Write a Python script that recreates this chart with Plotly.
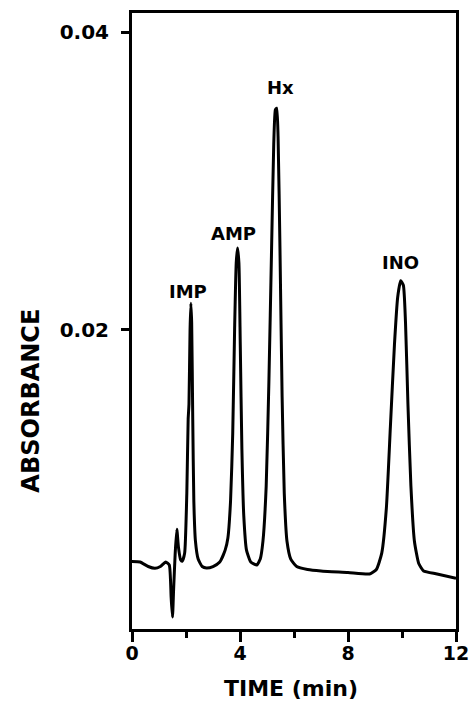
import plotly.graph_objects as go

# HPLC trace: retention time (min) vs absorbance
time_min = [
    0.00, 0.30, 0.60, 0.85, 1.05, 1.25, 1.38, 1.45, 1.50, 1.54,
    1.60, 1.66, 1.72, 1.80, 1.86, 1.95, 2.03, 2.08, 2.11, 2.15,
    2.18, 2.21, 2.25, 2.29, 2.35, 2.45, 2.60, 2.76, 3.00, 3.25,
    3.45, 3.55, 3.65, 3.73, 3.80, 3.86, 3.91, 3.96, 4.01, 4.07,
    4.14, 4.24, 4.40, 4.62, 4.75, 4.85, 4.97, 5.07, 5.17, 5.25,
    5.31, 5.36, 5.41, 5.48, 5.56, 5.64, 5.74, 5.88, 6.10, 6.50,
    7.00, 8.00, 8.80, 9.05, 9.25, 9.42, 9.57, 9.72, 9.84, 9.95,
    10.05, 10.13, 10.22, 10.33, 10.46, 10.62, 10.80, 11.30, 12.00,
]
absorbance = [
    0.00443, 0.00440, 0.00410, 0.00398, 0.00410, 0.00440, 0.00420, 0.00200, 0.00070, 0.00250,
    0.00500, 0.00660, 0.00540, 0.00455, 0.00445, 0.00500, 0.00900, 0.01400, 0.01500, 0.02000,
    0.02180, 0.02050, 0.01400, 0.00850, 0.00580, 0.00460, 0.00410, 0.00400, 0.00410, 0.00440,
    0.00520, 0.00600, 0.00850, 0.01300, 0.02000, 0.02450, 0.02550, 0.02450, 0.01900, 0.01200,
    0.00750, 0.00520, 0.00440, 0.00420, 0.00460, 0.00580, 0.00950, 0.01650, 0.02550, 0.03250,
    0.03480, 0.03490, 0.03300, 0.02550, 0.01550, 0.00900, 0.00580, 0.00460, 0.00410, 0.00390,
    0.00380, 0.00370, 0.00360, 0.00390, 0.00500, 0.00800, 0.01350, 0.01900, 0.02220, 0.02330,
    0.02300, 0.02050, 0.01500, 0.00950, 0.00580, 0.00430, 0.00380, 0.00360, 0.00330,
]

# Peak names and where their labels sit
peak_names = ["IMP", "AMP", "Hx", "INO"]
label_time = [2.07, 3.75, 5.49, 9.93]
label_abs = [0.0226, 0.0265, 0.0363, 0.0245]

x_tick_vals = [0, 4, 8, 12]
x_tick_text = ["0", "4", "8", "12"]
y_tick_vals = [0.02, 0.04]
y_tick_text = ["0.02", "0.04"]

FONT = "DejaVu Sans"
INK = "black"

fig = go.Figure()
fig.add_trace(go.Scatter(
    x=time_min, y=absorbance, mode="lines",
    line=dict(color=INK, width=3, shape="spline", smoothing=0.5),
    showlegend=False, hoverinfo="skip",
))

for name, tx, ay in zip(peak_names, label_time, label_abs):
    fig.add_annotation(
        x=tx, y=ay, text=name, showarrow=False,
        font=dict(family=FONT, size=18, color=INK, weight="bold"),
        xanchor="center", yanchor="middle",
    )

fig.add_annotation(
    xref="paper", yref="paper", x=0.49, y=-0.096, text="TIME (min)",
    showarrow=False, xanchor="center", yanchor="middle",
    font=dict(family=FONT, size=22, color=INK, weight="bold"),
)
fig.add_annotation(
    xref="paper", yref="paper", x=-0.31, y=0.37, text="ABSORBANCE",
    showarrow=False, textangle=-90, xanchor="center", yanchor="middle",
    font=dict(family=FONT, size=24, color=INK, weight="bold"),
)

fig.update_xaxes(
    range=[0, 12], tickvals=x_tick_vals, ticktext=x_tick_text,
    showline=True, linewidth=3, linecolor=INK, mirror=True,
    ticks="outside", ticklen=10, tickwidth=3, tickcolor=INK,
    minor=dict(dtick=2, tick0=0, ticks="outside", ticklen=6, tickwidth=3, tickcolor=INK),
    ticklabelstandoff=-5, ticklabeloverflow="allow",
    showgrid=False, zeroline=False,
    tickfont=dict(family=FONT, size=19, color=INK, weight="bold"),
)
fig.update_yaxes(
    range=[-0.0001, 0.0413], tickvals=y_tick_vals, ticktext=y_tick_text,
    showline=True, linewidth=3, linecolor=INK, mirror=True,
    ticks="outside", ticklen=8, tickwidth=3, tickcolor=INK,
    ticklabelstandoff=8,
    showgrid=False, zeroline=False,
    tickfont=dict(family=FONT, size=20, color=INK, weight="bold"),
)

fig.update_layout(
    width=470, height=705,
    margin=dict(l=132, r=14, t=13, b=76, autoexpand=False),
    paper_bgcolor="white", plot_bgcolor="white",
)

fig.write_html("out.html")
